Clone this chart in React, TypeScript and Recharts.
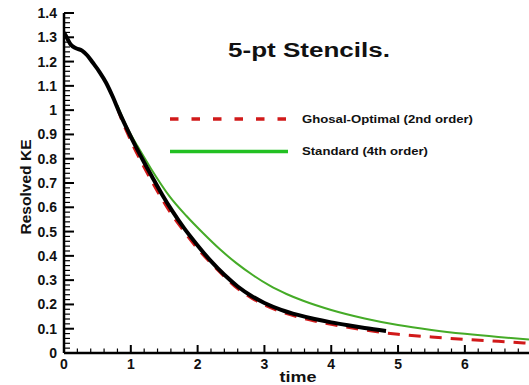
import React from "react";
import { LineChart, Line, XAxis, YAxis } from "recharts";

// reference curve (black)
const blackTime = [0, 0.04, 0.1, 0.18, 0.27, 0.35, 0.43, 0.53, 0.63, 0.73, 0.83, 0.94, 1.05, 1.18, 1.32, 1.47, 1.62, 1.8, 2.0, 2.2, 2.4, 2.6, 2.8, 3.0, 3.25, 3.5, 3.75, 4.0, 4.25, 4.5, 4.82];
const blackKE = [1.32, 1.3, 1.27, 1.255, 1.245, 1.225, 1.196, 1.158, 1.113, 1.055, 0.99, 0.925, 0.863, 0.795, 0.725, 0.652, 0.585, 0.513, 0.443, 0.378, 0.322, 0.274, 0.236, 0.206, 0.178, 0.157, 0.14, 0.126, 0.114, 0.103, 0.091];

// Ghosal-Optimal (2nd order)
const ghosalTime = [0.8, 0.85, 0.95, 1.05, 1.2, 1.4, 1.6, 1.8, 2.0, 2.2, 2.4, 2.6, 2.8, 3.0, 3.25, 3.5, 3.75, 4.0, 4.5, 5.0, 5.5, 6.0, 6.5, 6.96];
const ghosalKE = [1.01, 0.97, 0.905, 0.845, 0.765, 0.665, 0.575, 0.5, 0.43, 0.37, 0.315, 0.265, 0.228, 0.198, 0.17, 0.149, 0.132, 0.118, 0.095, 0.077, 0.066, 0.056, 0.048, 0.04];

// Standard (4th order)
const standardTime = [0.8, 0.9, 1.0, 1.1, 1.3, 1.58, 1.83, 2.08, 2.33, 2.58, 2.83, 3.08, 3.33, 3.58, 4.0, 4.5, 5.0, 5.5, 6.0, 6.5, 6.96];
const standardKE = [1.02, 0.955, 0.9, 0.852, 0.76, 0.645, 0.565, 0.494, 0.428, 0.37, 0.32, 0.277, 0.243, 0.215, 0.177, 0.142, 0.115, 0.095, 0.079, 0.066, 0.056];

const xMajorTicks = [0, 1, 2, 3, 4, 5, 6];
const yMajorTicks = [0, 0.1, 0.2, 0.3, 0.4, 0.5, 0.6, 0.7, 0.8, 0.9, 1, 1.1, 1.2, 1.3, 1.4];
const X_MAX = 6.96;
const Y_MAX = 1.4;

const FONT = "'Liberation Sans', Arial, Helvetica, sans-serif";
const RED = "#d11a1a";
const GREEN = "#45ab27";
const GREEN_KEY = "#22c022";

const toPoints = (t: number[], v: number[]) => t.map((time, i) => ({ time, ke: v[i] }));

// minor ticks: 5 parts between majors, major ticks are kept in the list
function withMinor(major: number[], parts: number, max: number) {
  const step = (major[1] - major[0]) / parts;
  const out: number[] = [];
  major.forEach((m) => {
    for (let k = 0; k < parts; k++) {
      const v = +(m + k * step).toFixed(4);
      if (v <= max + 1e-9) out.push(v);
    }
  });
  return out;
}

const isMajor = (list: number[], v: number) => list.some((m) => Math.abs(m - v) < 1e-6);

const YTick = (props: any) => {
  const { x, y, payload } = props;
  const major = isMajor(yMajorTicks, payload.value);
  return (
    <g>
      <line x1={x} y1={y} x2={x + (major ? 10 : 6)} y2={y} stroke="#000" strokeWidth={major ? 2 : 1.2} />
      {major && (
        <text x={x - 7} y={y} dy="0.36em" textAnchor="end" fontFamily={FONT} fontWeight="bold" fontSize={14} fill="#111">
          {String(+payload.value.toFixed(1))}
        </text>
      )}
    </g>
  );
};

const XTick = (props: any) => {
  const { x, y, payload } = props;
  const major = isMajor(xMajorTicks, payload.value);
  return (
    <g>
      <line x1={x} y1={y} x2={x} y2={y - (major ? 8 : 4.5)} stroke="#000" strokeWidth={major ? 2 : 1.2} />
      {major && (
        <text x={x} y={y + 16} textAnchor="middle" fontFamily={FONT} fontWeight="bold" fontSize={14} fill="#111">
          {payload.value}
        </text>
      )}
    </g>
  );
};

export default function App() {
  const W = 529;
  const H = 385;
  return (
    <div style={{ position: "absolute", left: 0, top: 0, width: W, height: H, background: "#fff" }}>
      <LineChart width={W} height={H} margin={{ top: 13, right: 0, left: 0, bottom: 0 }}>
        <XAxis
          type="number"
          dataKey="time"
          domain={[0, X_MAX]}
          ticks={withMinor(xMajorTicks, 5, X_MAX)}
          interval={0}
          tick={<XTick />}
          tickSize={0}
          tickMargin={0}
          tickLine={false}
          axisLine={{ stroke: "#000", strokeWidth: 2.5 }}
          height={32}
          allowDataOverflow
        />
        <YAxis
          type="number"
          dataKey="ke"
          domain={[0, Y_MAX]}
          ticks={withMinor(yMajorTicks, 5, Y_MAX)}
          interval={0}
          tick={<YTick />}
          tickSize={0}
          tickMargin={0}
          tickLine={false}
          axisLine={{ stroke: "#000", strokeWidth: 2.5 }}
          width={64}
          allowDataOverflow
        />
        <Line
          data={toPoints(ghosalTime, ghosalKE)}
          dataKey="ke"
          name="Ghosal-Optimal (2nd order)"
          type="monotone"
          stroke={RED}
          strokeWidth={3}
          strokeDasharray="12 9"
          dot={false}
          isAnimationActive={false}
        />
        <Line
          data={toPoints(standardTime, standardKE)}
          dataKey="ke"
          name="Standard (4th order)"
          type="monotone"
          stroke={GREEN}
          strokeWidth={2}
          dot={false}
          isAnimationActive={false}
        />
        <Line
          data={toPoints(blackTime, blackKE)}
          dataKey="ke"
          name="Reference"
          type="monotone"
          stroke="#000"
          strokeWidth={4}
          dot={false}
          isAnimationActive={false}
        />
      </LineChart>

      {/* title, key and axis titles drawn over the chart */}
      <svg width={W} height={H} style={{ position: "absolute", left: 0, top: 0, pointerEvents: "none" }}>
        <g fontFamily={FONT} fontWeight="bold" fill="#111">
          <text x={228} y={57} fontSize={20} textLength={162} lengthAdjust="spacingAndGlyphs">
            5-pt Stencils.
          </text>
          <line x1={170} y1={119} x2={291} y2={119} stroke={RED} strokeWidth={3.5} strokeDasharray="8.5 13" />
          <text x={302} y={122.5} fontSize={11.5} textLength={171} lengthAdjust="spacingAndGlyphs">
            Ghosal-Optimal (2nd order)
          </text>
          <line x1={170} y1={151.5} x2={288} y2={151.5} stroke={GREEN_KEY} strokeWidth={3.5} />
          <text x={302} y={155} fontSize={11.5} textLength={126} lengthAdjust="spacingAndGlyphs">
            Standard (4th order)
          </text>
          <text x={298} y={382} fontSize={15} textAnchor="middle" textLength={37} lengthAdjust="spacingAndGlyphs">
            time
          </text>
          <text
            transform="translate(31,187) rotate(-90)"
            fontSize={15}
            textAnchor="middle"
            textLength={95}
            lengthAdjust="spacingAndGlyphs"
          >
            Resolved KE
          </text>
        </g>
      </svg>
    </div>
  );
}
